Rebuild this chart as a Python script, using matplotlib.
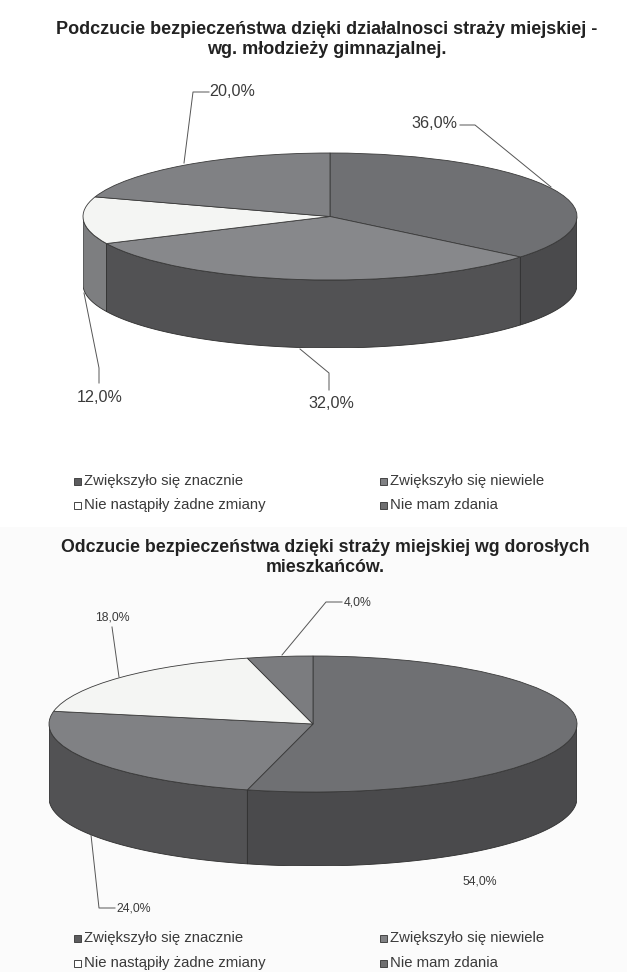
import numpy as np
import matplotlib
matplotlib.use('Agg')
import matplotlib.pyplot as plt
from matplotlib.patches import Polygon, Rectangle

W, H = 627, 972

title_1 = ['Podczucie bezpieczeństwa dzięki działalnosci straży miejskiej -',
           'wg. młodzieży gimnazjalnej.']
title_2 = ['Odczucie bezpieczeństwa dzięki straży miejskiej wg dorosłych',
           'mieszkańców.']
legend_labels = ['Zwiększyło się znacznie', 'Zwiększyło się niewiele',
                 'Nie nastąpiły żadne zmiany', 'Nie mam zdania']

values_1 = [36.0, 32.0, 12.0, 20.0]
values_2 = [54.0, 24.0, 18.0, 4.0]
value_labels_1 = ['36,0%', '32,0%', '12,0%', '20,0%']
value_labels_2 = ['54,0%', '24,0%', '18,0%', '4,0%']

top_colors_1 = ['#6f7073', '#87888b', '#f4f5f3', '#808184']
side_colors_1 = ['#4a4a4c', '#525254', '#7d7e80', '#808184']
top_colors_2 = ['#6f7073', '#808184', '#f4f5f3', '#7b7c7f']
side_colors_2 = ['#4a4a4c', '#525254', '#7d7e80', '#7b7c7f']

TEXT = '#3a3a3a'
plt.rcParams['font.family'] = ['Liberation Sans', 'DejaVu Sans']


def draw_pie(fig, values, top_colors, side_colors, left, right, top, bottom, depth):
    # the pie is a unit circle squashed to an ellipse by the axes box, walls hang below it
    ry = (bottom - top) / 2
    depth_units = depth / ry
    ax = fig.add_axes([left / W, 1 - (bottom + depth) / H,
                       (right - left) / W, (bottom + depth - top) / H])
    ax.pie(values, colors=top_colors, startangle=90, counterclock=False, radius=1,
           wedgeprops={'edgecolor': '#3a3a3a', 'linewidth': 0.6, 'zorder': 3})
    ax.set_aspect('auto')
    ax.set_xlim(-1, 1)
    ax.set_ylim(-1 - depth_units, 1)

    start = 90.0
    total = sum(values)
    for val, col in zip(values, side_colors):
        end = start - val / total * 360
        # only the front half of the rim shows
        hi = np.arange(start, end - 360, -360)
        for a0 in hi:
            a1 = a0 - (start - end)
            lo_a, hi_a = max(a1, -180), min(a0, 0)
            if hi_a > lo_a:
                t = np.radians(np.linspace(hi_a, lo_a, 80))
                xs, ys = np.cos(t), np.sin(t)
                pts = np.r_[np.c_[xs, ys], np.c_[xs, ys - depth_units][::-1]]
                ax.add_patch(Polygon(pts, closed=True, facecolor=col, edgecolor='#2e2e2e',
                                     linewidth=0.6, zorder=2))
        start = end
    return ax


def draw_legend(ov, y1, y2):
    rows = [(74, y1, '#5c5c5e'), (380, y1, '#808184'), (74, y2, '#ffffff'), (380, y2, '#6f6f70')]
    for (x, y, col), label in zip(rows, legend_labels):
        ov.add_patch(Rectangle((x, y - 3.5), 7, 7, facecolor=col, edgecolor='#444444', linewidth=0.7))
        ov.text(x + 10, y, label, fontsize=10.7, color=TEXT, va='center', ha='left')


fig = plt.figure(figsize=(W / 100, H / 100), dpi=100, facecolor='white')

ov = fig.add_axes([0, 0, 1, 1], zorder=5)
ov.set_xlim(0, W)
ov.set_ylim(H, 0)
ov.axis('off')
ov.patch.set_alpha(0)

bg = fig.add_axes([0, 0, 1, 1], zorder=-1)
bg.set_xlim(0, W)
bg.set_ylim(H, 0)
bg.axis('off')
bg.add_patch(Rectangle((0, 527), W, H - 527, facecolor='#fbfbfb', edgecolor='none'))

draw_pie(fig, values_1, top_colors_1, side_colors_1, 83, 577, 153, 280, 68)
draw_pie(fig, values_2, top_colors_2, side_colors_2, 49, 577, 656, 792, 74)

ov.text(327, 30, title_1[0], fontsize=13, fontweight='bold', color='#222222', ha='center', va='center')
ov.text(327, 49, title_1[1], fontsize=13, fontweight='bold', color='#222222', ha='center', va='center')
ov.text(325, 547, title_2[0], fontsize=12.8, fontweight='bold', color='#222222', ha='center', va='center')
ov.text(325, 567, title_2[1], fontsize=12.8, fontweight='bold', color='#222222', ha='center', va='center')

leaders_1 = [([460, 475, 551], [125, 125, 187]),
             ([300, 329, 329], [349, 373, 390]),
             ([84, 99, 99], [293, 368, 383]),
             ([209, 193, 184], [92, 92, 163])]
spots_1 = [(434, 124), (331, 403), (100, 397), (232, 92)]
leaders_2 = [None,
             ([91, 99, 115], [835, 908, 908]),
             ([119, 112], [677, 627]),
             ([282, 326, 342], [655, 602, 602])]
spots_2 = [(480, 881), (134, 908), (112, 617), (358, 602)]

for line, spot, label in zip(leaders_1, spots_1, value_labels_1):
    ov.plot(line[0], line[1], color='#555555', lw=0.7)
    ov.text(spot[0], spot[1], label, fontsize=11.6, color=TEXT, ha='center', va='center')
for line, spot, label in zip(leaders_2, spots_2, value_labels_2):
    if line is not None:
        ov.plot(line[0], line[1], color='#555555', lw=0.7)
    ov.text(spot[0], spot[1], label, fontsize=8.8, color=TEXT, ha='center', va='center')
ov.set_xlim(0, W)
ov.set_ylim(H, 0)

draw_legend(ov, 481, 505)
draw_legend(ov, 938, 963)

fig.savefig('out.png', dpi=100)
